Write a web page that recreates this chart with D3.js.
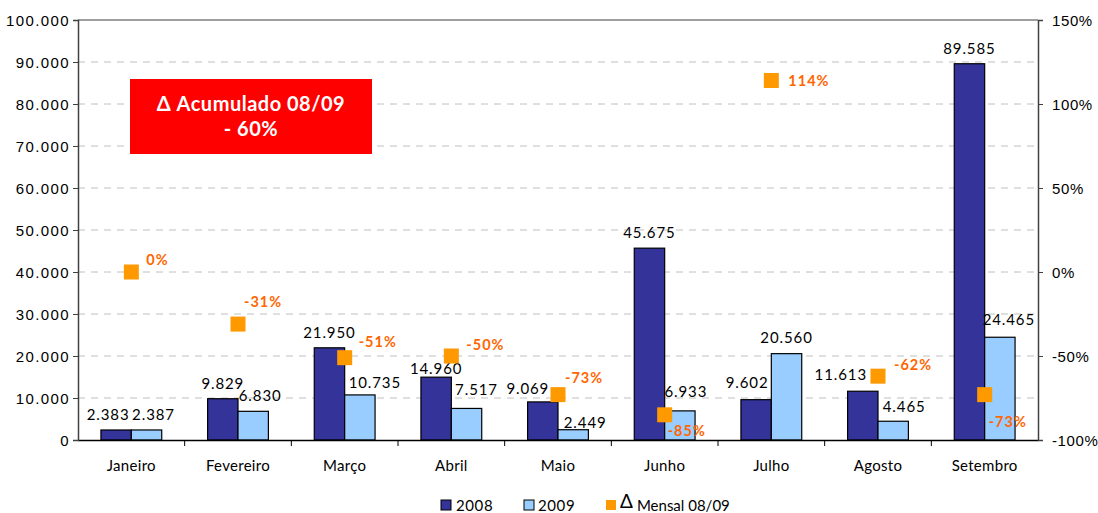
<!DOCTYPE html>
<html>
<head>
<meta charset="utf-8">
<script src="https://cdn.jsdelivr.net/npm/d3@7"></script>
<style>
  body { margin: 0; background: #fff; }
  svg { font-family: "Lato", "DejaVu Sans", sans-serif; }
</style>
</head>
<body>
<svg id="chart" width="1098" height="513"></svg>
<script>
var months = ["Janeiro","Fevereiro","Março","Abril","Maio","Junho","Julho","Agosto","Setembro"];
var vals2008 = [2383, 9829, 21950, 14960, 9069, 45675, 9602, 11613, 89585];
var vals2009 = [2387, 6830, 10735, 7517, 2449, 6933, 20560, 4465, 24465];
var deltaMensal = [0.00, -0.31, -0.51, -0.50, -0.73, -0.85, 1.14, -0.62, -0.73];
var leftTicks = [0,10000,20000,30000,40000,50000,60000,70000,80000,90000,100000];
var rightTicks = [-1, -0.5, 0, 0.5, 1, 1.5];
var acumuladoLines = ["Δ Acumulado 08/09", "- 60%"];

// hand nudges for labels, like the original sheet
var off2008 = [[-8,-10],[0,-10],[0,-10],[0,-3],[-15,-8],[0,-10],[-9,-12],[-22,-11],[0,-10]];
var off2009 = [[7,-10],[7,-10],[15,-7],[10,-13],[12,-2],[6,-14],[0,-11],[11,-9],[9,-12]];
var offDelta = [[15,-7],[6,-17],[14,-11],[15,-6],[7,-12],[3,21],[17,6],[16,-6],[4,32]];

var L = 78, R = 1038, T = 20, B = 440;
var svg = d3.select("#chart");

var pt = d3.formatLocale({decimal: ",", thousands: ".", grouping: [3], currency: ["", ""]});
var fmt = pt.format(",");

var x = d3.scaleBand().domain(months).range([L, R]).padding(0);
var y = d3.scaleLinear().domain([0, 100000]).range([B, T]);
var y2 = d3.scaleLinear().domain([-1, 1.5]).range([B, T]);
var bw = x.bandwidth() * 0.285;

// gridlines
svg.append("g").selectAll("line").data(leftTicks.slice(1, -1)).enter()
  .append("line")
  .attr("x1", L).attr("x2", R)
  .attr("y1", function(d) { return y(d); }).attr("y2", function(d) { return y(d); })
  .style("stroke", "#c0c0c0").style("stroke-width", "1px").style("stroke-dasharray", "7,6");

// top border
svg.append("line").attr("x1", L).attr("x2", R).attr("y1", T).attr("y2", T)
  .style("stroke", "#808080").style("stroke-width", "1.5px");

// bars
svg.append("g").selectAll("rect").data(vals2008).enter().append("rect")
  .attr("x", function(d, i) { return x(months[i]) + x.bandwidth()/2 - bw; })
  .attr("y", function(d) { return y(d); })
  .attr("width", bw)
  .attr("height", function(d) { return B - y(d); })
  .style("fill", "#333399").style("stroke", "#000").style("stroke-width", "1.2px");

svg.append("g").selectAll("rect").data(vals2009).enter().append("rect")
  .attr("x", function(d, i) { return x(months[i]) + x.bandwidth()/2; })
  .attr("y", function(d) { return y(d); })
  .attr("width", bw)
  .attr("height", function(d) { return B - y(d); })
  .style("fill", "#99ccff").style("stroke", "#000").style("stroke-width", "1.2px");

// axes
var xAxis = d3.axisBottom(x).tickSize(0).tickPadding(0).tickFormat("");
svg.append("g").attr("transform", "translate(0," + B + ")").call(xAxis)
  .select(".domain").style("stroke", "#000").style("stroke-width", "1.5px");

// category boundary ticks
svg.append("g").selectAll("line").data(months.slice(1)).enter().append("line")
  .attr("x1", function(d) { return x(d); }).attr("x2", function(d) { return x(d); })
  .attr("y1", B).attr("y2", B + 6)
  .style("stroke", "#000").style("stroke-width", "1px");

svg.append("g").selectAll("text").data(months).enter().append("text")
  .attr("x", function(d) { return x(d) + x.bandwidth()/2; })
  .attr("y", 471)
  .attr("text-anchor", "middle")
  .style("font-size", "15px").style("fill", "#000").style("letter-spacing", "0.3px")
  .text(function(d) { return d; });

var yAxis = d3.axisLeft(y).tickValues(leftTicks).tickSize(5).tickPadding(3)
  .tickFormat(function(d) { return fmt(d); });
var gy = svg.append("g").attr("transform", "translate(" + L + ",0)").call(yAxis);
gy.select(".domain").style("stroke", "#404040").style("stroke-width", "1.5px");
gy.selectAll("line").style("stroke", "#404040");
gy.selectAll("text").style("font-size", "15px").style("fill", "#000")
  .style("letter-spacing", "1.4px").attr("dy", "0.35em");

var y2Axis = d3.axisRight(y2).tickValues(rightTicks).tickSize(5).tickPadding(9)
  .tickFormat(function(d) { return Math.round(d * 100) + "%"; });
var gy2 = svg.append("g").attr("transform", "translate(" + R + ",0)").call(y2Axis);
gy2.select(".domain").style("stroke", "#404040").style("stroke-width", "1.5px");
gy2.selectAll("line").style("stroke", "#404040");
gy2.selectAll("text").style("font-size", "15px").style("fill", "#000")
  .style("letter-spacing", "0.6px").attr("dy", "0.35em");

// value labels
svg.append("g").selectAll("text").data(vals2008).enter().append("text")
  .attr("x", function(d, i) { return x(months[i]) + x.bandwidth()/2 - bw/2 + off2008[i][0]; })
  .attr("y", function(d, i) { return y(d) + off2008[i][1]; })
  .attr("text-anchor", "middle")
  .style("font-size", "15px").style("fill", "#000").style("letter-spacing", "0.9px")
  .text(function(d) { return fmt(d); });

svg.append("g").selectAll("text").data(vals2009).enter().append("text")
  .attr("x", function(d, i) { return x(months[i]) + x.bandwidth()/2 + bw/2 + off2009[i][0]; })
  .attr("y", function(d, i) { return y(d) + off2009[i][1]; })
  .attr("text-anchor", "middle")
  .style("font-size", "15px").style("fill", "#000").style("letter-spacing", "0.9px")
  .text(function(d) { return fmt(d); });

// delta markers
var ms = 15;
svg.append("g").selectAll("rect").data(deltaMensal).enter().append("rect")
  .attr("x", function(d, i) { return x(months[i]) + x.bandwidth()/2 - ms/2; })
  .attr("y", function(d) { return y2(d) - ms/2; })
  .attr("width", ms).attr("height", ms)
  .style("fill", "#ff9900");

svg.append("g").selectAll("text").data(deltaMensal).enter().append("text")
  .attr("x", function(d, i) { return x(months[i]) + x.bandwidth()/2 + offDelta[i][0]; })
  .attr("y", function(d, i) { return y2(d) + offDelta[i][1]; })
  .style("font-size", "14.5px").style("font-weight", "bold").style("fill", "#ff6600")
  .style("letter-spacing", "1px")
  .text(function(d) { return Math.round(d * 100) + "%"; });

// accumulated box
svg.append("rect").attr("x", 130).attr("y", 79).attr("width", 242).attr("height", 75)
  .style("fill", "#ff0000");
svg.append("g").selectAll("text").data(acumuladoLines).enter().append("text")
  .attr("x", 251)
  .attr("y", function(d, i) { return 111 + i * 25; })
  .attr("text-anchor", "middle")
  .style("font-size", "20px").style("font-weight", "bold").style("fill", "#fff")
  .style("letter-spacing", "0.5px")
  .text(function(d) { return d; });

// legend
var legend = svg.append("g");
legend.append("rect").attr("x", 441).attr("y", 500).attr("width", 10).attr("height", 10)
  .style("fill", "#333399").style("stroke", "#000");
legend.append("text").attr("x", 456).attr("y", 511).style("font-size", "15px")
  .style("letter-spacing", "0.6px").text("2008");
legend.append("rect").attr("x", 524).attr("y", 500).attr("width", 10).attr("height", 10)
  .style("fill", "#99ccff").style("stroke", "#000");
legend.append("text").attr("x", 538).attr("y", 511).style("font-size", "15px")
  .style("letter-spacing", "0.6px").text("2009");
legend.append("rect").attr("x", 606).attr("y", 500).attr("width", 10).attr("height", 10)
  .style("fill", "#ff9900");
var lt = legend.append("text").attr("x", 620).attr("y", 511).style("font-size", "15px");
lt.append("tspan").style("font-size", "19px").attr("dy", "-3").text("Δ");
lt.append("tspan").attr("dx", "4").attr("dy", "3").text("Mensal 08/09");
</script>
</body>
</html>
